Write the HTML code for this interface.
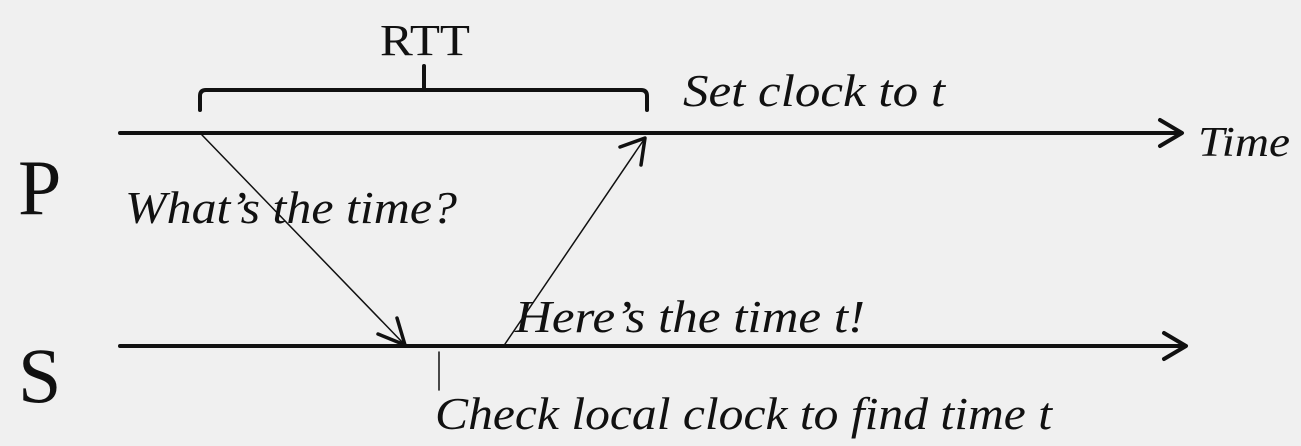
<!DOCTYPE html>
<html><head><style>
html,body{margin:0;padding:0;background:#f0f0f0;}
svg{display:block}
text{font-family:"Liberation Serif",serif;fill:#111}
.i{font-style:italic}
</style></head><body>
<svg width="1301" height="446" viewBox="0 0 1301 446" xmlns="http://www.w3.org/2000/svg">
<g stroke="#111" fill="none" stroke-linecap="round" stroke-linejoin="round">
<line x1="120" y1="133" x2="1180" y2="133" stroke-width="4"/>
<polyline points="1160,120 1182,133 1160,146" stroke-width="4"/>
<line x1="120" y1="346" x2="1184" y2="346" stroke-width="4"/>
<polyline points="1164,333 1186,346 1164,359" stroke-width="4"/>
<path d="M200,110 V96 Q200,90 206,90 H641 Q647,90 647,96 V110" stroke-width="4"/>
<line x1="424" y1="90" x2="424" y2="66" stroke-width="4"/>
<line x1="202" y1="135" x2="404" y2="344" stroke-width="1.5"/>
<polyline points="378,334 405,345 397,318" stroke-width="3.5"/>
<line x1="505" y1="344" x2="645" y2="138" stroke-width="1.5"/>
<polyline points="620,147 645,138 641,165" stroke-width="3.5"/>
<line x1="439" y1="352" x2="439" y2="390" stroke-width="1.5"/>
</g>
<text x="380" y="55" font-size="44" textLength="90" lengthAdjust="spacingAndGlyphs">RTT</text>
<text x="683" y="106" font-size="46" class="i" textLength="262" lengthAdjust="spacingAndGlyphs">Set clock to t</text>
<text x="1198" y="156" font-size="42" class="i" textLength="92" lengthAdjust="spacingAndGlyphs">Time</text>
<text x="18" y="214" font-size="78">P</text>
<text x="18" y="402" font-size="78">S</text>
<text x="125" y="223" font-size="46" class="i" textLength="332" lengthAdjust="spacingAndGlyphs">What’s the time?</text>
<text x="515" y="332" font-size="46" class="i" textLength="350" lengthAdjust="spacingAndGlyphs">Here’s the time t!</text>
<text x="435" y="429" font-size="46" class="i" textLength="617" lengthAdjust="spacingAndGlyphs">Check local clock to find time t</text>
</svg>
</body></html>
